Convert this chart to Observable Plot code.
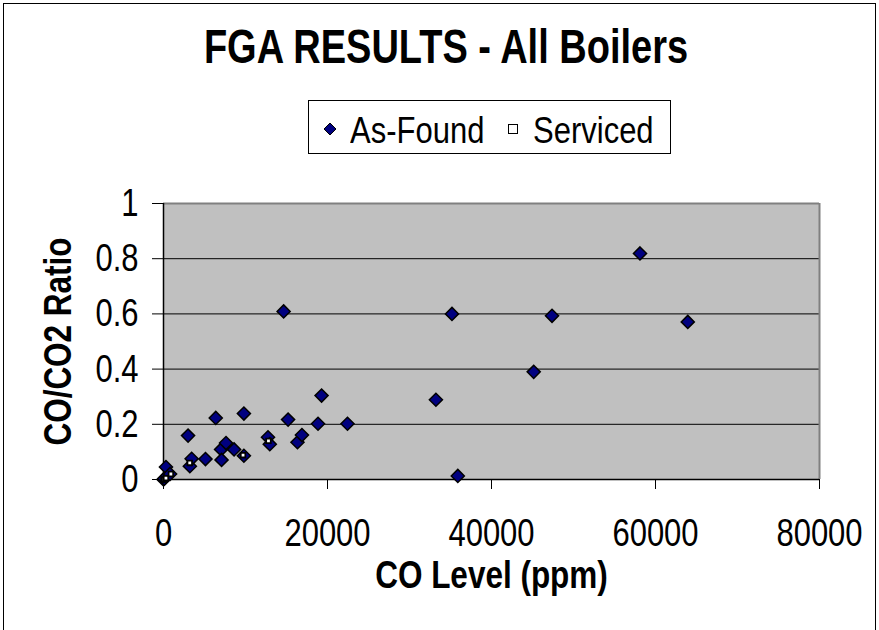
<!DOCTYPE html>
<html>
<head>
<meta charset="utf-8">
<script src="https://cdn.jsdelivr.net/npm/d3@7"></script>
<script src="https://cdn.jsdelivr.net/npm/@observablehq/plot@0.6"></script>
<style>
  html, body { margin: 0; padding: 0; background: #fff; }
  #wrap { position: relative; width: 879px; height: 630px; overflow: hidden; background: #fff;
          font-family: "Liberation Sans", Arial, sans-serif; }
  #frame { position: absolute; left: 3px; top: 3px; width: 871px; height: 700px; border: 1px solid #000; pointer-events: none; }
  #header { position: relative; width: 879px; height: 160px; }
  #title { position: absolute; left: 446px; top: 23px; white-space: nowrap;
           font-size: 38px; line-height: 38px; font-weight: bold; color: #000;
           transform-origin: 0 0; transform: translateX(-50%) scaleY(1.25); }
  #legend { position: absolute; left: 308px; top: 100px; width: 361px; height: 52px; border: 1px solid #000; background: #fff; }
  .lg-text { position: absolute; font-size: 31px; line-height: 31px; white-space: nowrap; color: #000;
             transform-origin: 0 0; transform: scaleY(1.22); }
  .lg-sym { position: absolute; line-height: 0; }
  #chart { display: block; }
</style>
</head>
<body>
<div id="wrap">
  <div id="header">
    <div id="title"></div>
    <div id="legend"></div>
  </div>
  <div id="chart"></div>
  <div id="frame"></div>
</div>
<script>
// ---- Data ----
const chartTitle = "FGA RESULTS - All Boilers";
const xTitle = "CO Level (ppm)";
const yTitle = "CO/CO2 Ratio";
const seriesNames = ["As-Found", "Serviced"];

const xTicks = [0, 20000, 40000, 60000, 80000];
const yTicks = [0, 0.2, 0.4, 0.6, 0.8, 1];

const asFoundX = [0, 100, 300, 800, 2995, 3213, 3431, 5119, 6372, 7025, 7080, 7624, 8605, 9803, 9803,
                  12743, 12961, 14650, 15194, 16338, 16882, 18843, 19278, 22437, 33220, 35180, 35890,
                  45146, 47380, 58110, 63935];
const asFoundY = [0, 0.003, 0.045, 0.02, 0.159, 0.048, 0.075, 0.074, 0.223, 0.109, 0.071, 0.132, 0.109, 0.239, 0.086,
                  0.153, 0.128, 0.609, 0.217, 0.135, 0.161, 0.202, 0.304, 0.202, 0.289, 0.600, 0.013,
                  0.390, 0.593, 0.819, 0.571];

const servicedX = [0, 100, 300, 900, 3200, 9700, 12800];
const servicedY = [0, 0, 0.005, 0.02, 0.06, 0.088, 0.14];

// ---- Build tables ----
const asFound = asFoundX.map((x, i) => ({x, y: asFoundY[i]}));
const serviced = servicedX.map((x, i) => ({x, y: servicedY[i]}));

const FONT = '"Liberation Sans", Arial, sans-serif';
const NAVY = "#000080";
const STRETCH = 1.25;

// Title
document.getElementById("title").textContent = chartTitle;

// Legend
const legend = document.getElementById("legend");
function addLegendItem(symbolSvg, symLeft, symTop, label, textLeft) {
  const s = document.createElement("div");
  s.className = "lg-sym";
  s.style.left = symLeft + "px";
  s.style.top = symTop + "px";
  s.innerHTML = symbolSvg;
  legend.appendChild(s);
  const t = document.createElement("div");
  t.className = "lg-text";
  t.style.left = textLeft + "px";
  t.style.top = "10px";
  t.textContent = label;
  legend.appendChild(t);
}
addLegendItem(`<svg width="14" height="14"><path d="M7,1L13,7L7,13L1,7Z" fill="${NAVY}" stroke="#000" stroke-width="1"/></svg>`,
              14, 21, seriesNames[0], 41);
addLegendItem(`<svg width="12" height="12"><rect x="1.5" y="1.5" width="9" height="9" fill="#fff" stroke="#000" stroke-width="1"/></svg>`,
              198, 22, seriesNames[1], 224);

// Chart
const chart = Plot.plot({
  width: 879,
  height: 470,
  marginLeft: 163,
  marginRight: 60,
  marginTop: 43,
  marginBottom: 151,
  style: {fontFamily: FONT, color: "#000", background: "transparent", overflow: "visible"},
  x: {domain: [0, 80000], ticks: xTicks, tickFormat: d3.format("d")},
  y: {domain: [0, 1], ticks: yTicks, tickFormat: d => String(d)},
  marks: [
    Plot.frame({fill: "#c0c0c0", stroke: null}),
    Plot.gridY(yTicks.filter(d => d > 0 && d < 1), {stroke: "#000", strokeOpacity: 1, strokeWidth: 1}),
    Plot.ruleY([1], {stroke: "#808080", strokeWidth: 2}),
    Plot.ruleX([80000], {stroke: "#808080", strokeWidth: 2}),
    Plot.axisX({ticks: xTicks, tickSize: 10, tickPadding: 29, fontSize: 31, label: null, stroke: "#000", tickFormat: d3.format("d")}),
    Plot.axisY({ticks: yTicks, tickSize: 11, tickPadding: 14, fontSize: 31, label: null, stroke: "#000", tickFormat: d => String(d)}),
    Plot.ruleX([0], {stroke: "#000", strokeWidth: 1.5}),
    Plot.ruleY([0], {stroke: "#000", strokeWidth: 1.5}),
    Plot.dot(asFound, {x: "x", y: "y", symbol: "diamond2", r: 5.9, fill: NAVY, stroke: "#000", strokeWidth: 1.5}),
    Plot.dot(serviced, {x: "x", y: "y", symbol: "square", r: 2.6, fill: "#fff", stroke: "#000", strokeWidth: 1.8}),
    Plot.text([xTitle], {frameAnchor: "bottom", dy: 108, fontSize: 31.5, fontWeight: "bold", lineAnchor: "bottom", textAnchor: "middle", fill: "#000"}),
    Plot.text([yTitle], {frameAnchor: "left", dx: -93, rotate: -90, fontSize: 31.5, fontWeight: "bold", lineAnchor: "bottom", textAnchor: "middle", fill: "#000"})
  ]
});

// Stretch glyphs vertically (in each text's own frame) like the reference rendering
const isNum = v => v != null && /^-?[\d.]+$/.test(v);
chart.querySelectorAll("text").forEach(el => {
  const t = el.getAttribute("transform") || "";
  const xa = el.getAttribute("x"), ya = el.getAttribute("y");
  const x = isNum(xa) ? +xa : 0, y = isNum(ya) ? +ya : 0;
  el.setAttribute("transform", `${t} translate(${x},${y}) scale(1,${STRETCH}) translate(${-x},${-y})`.trim());
});

document.getElementById("chart").appendChild(chart);
</script>
</body>
</html>
